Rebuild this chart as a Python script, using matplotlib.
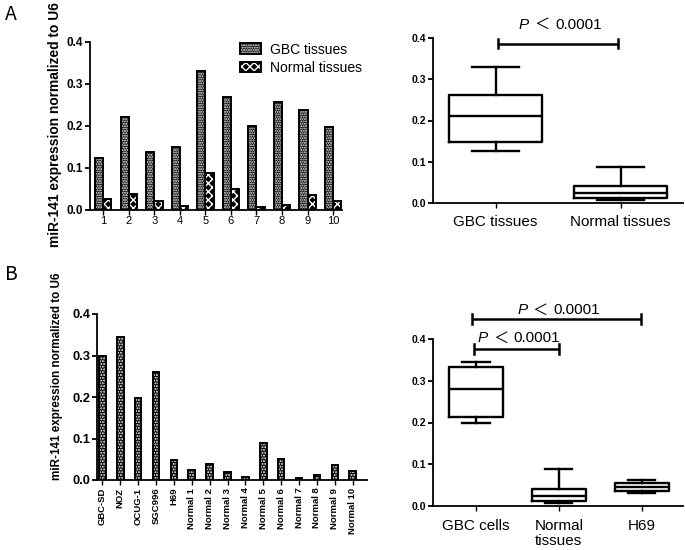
import numpy as np
import matplotlib
matplotlib.use("Agg")
import matplotlib.pyplot as plt
from matplotlib.transforms import offset_copy

plt.rcParams['font.family'] = ['Liberation Sans', 'Noto Sans CJK SC', 'DejaVu Sans']
plt.rcParams['hatch.linewidth'] = 1.0

# ---------------- data ----------------
a_groups = ['1', '2', '3', '4', '5', '6', '7', '8', '9', '10']
a_gbc = [0.125, 0.222, 0.137, 0.150, 0.330, 0.270, 0.200, 0.258, 0.238, 0.198]
a_normal = [0.027, 0.038, 0.021, 0.009, 0.088, 0.050, 0.008, 0.013, 0.036, 0.021]

b_labels = ['GBC-SD', 'NOZ', 'OCUG-1', 'SGC996', 'H69',
            'Normal 1', 'Normal 2', 'Normal 3', 'Normal 4', 'Normal 5',
            'Normal 6', 'Normal 7', 'Normal 8', 'Normal 9', 'Normal 10']
b_values = [0.300, 0.345, 0.198, 0.260, 0.048,
            0.025, 0.038, 0.019, 0.008, 0.088,
            0.050, 0.006, 0.013, 0.036, 0.021]

box_a_labels = ['GBC tissues', 'Normal tissues']
box_b_labels = ['GBC cells', 'Normal\ntissues', 'H69']
# H69 replicate box statistics (low whisker, Q1, median, Q3, high whisker)
h69_stats = [0.032, 0.035, 0.046, 0.055, 0.062]

yticks = [0.0, 0.1, 0.2, 0.3, 0.4]
ylabel = 'miR-141 expression normalized to U6'
p_sym, p_val = '＜', '0.0001'


def box_stats(values, label):
    v = np.asarray(values)
    q1, med, q3 = np.percentile(v, [25, 50, 75], method='weibull')
    return dict(whislo=v.min(), q1=q1, med=med, q3=q3, whishi=v.max(),
                fliers=[], label=label)


def stats_from_list(s, label):
    return dict(whislo=s[0], q1=s[1], med=s[2], q3=s[3], whishi=s[4],
                fliers=[], label=label)


fig = plt.figure(figsize=(6.85, 5.5), dpi=100)
W, H = 685, 550


def add_ax(left, right, top, bottom):
    return fig.add_axes([left / W, 1 - bottom / H, (right - left) / W, (bottom - top) / H])


def style_axis(ax, ytick_size):
    for s in ['top', 'right']:
        ax.spines[s].set_visible(False)
    for s in ['left', 'bottom']:
        ax.spines[s].set_linewidth(1.3)
    ax.set_ylim(0, 0.4)
    ax.set_yticks(yticks)
    ax.set_yticklabels([f'{t:.1f}' for t in yticks], fontsize=ytick_size, fontweight='bold')
    ax.tick_params(axis='y', direction='out', length=3.5, width=1.3, pad=1.5)
    ax.tick_params(axis='x', direction='out', length=3.5, width=1.0)


def patterned_bars(ax, xpos, vals, width, hatch, lw=1.4):
    inner = ax.bar(xpos, vals, width, facecolor='black', edgecolor='white',
                   linewidth=0, hatch=hatch)
    outer = ax.bar(xpos, vals, width, fill=False, edgecolor='black', linewidth=lw)
    return inner, outer


def sig_bar(ax, x0, x1, y, ytext, dh=0.011):
    ax.plot([x0, x1], [y, y], color='black', lw=1.8, clip_on=False, solid_capstyle='butt')
    for x in (x0, x1):
        ax.plot([x, x], [y - dh, y + dh], color='black', lw=1.8, clip_on=False)
    xc = (x0 + x1) / 2
    tP = offset_copy(ax.transData, fig=fig, x=-29, y=0, units='dots')
    tS = offset_copy(ax.transData, fig=fig, x=-16, y=0, units='dots')
    tV = offset_copy(ax.transData, fig=fig, x=-3, y=0, units='dots')
    ax.text(xc, ytext, 'P', transform=tP, ha='right', va='center', fontsize=11,
            fontstyle='italic', clip_on=False)
    ax.text(xc, ytext, p_sym, transform=tS, ha='center', va='center', fontsize=11,
            family=['Noto Sans CJK SC'], fontweight='light', clip_on=False)
    ax.text(xc, ytext, p_val, transform=tV, ha='left', va='center', fontsize=11,
            clip_on=False)


# ---------------- Panel A: bars ----------------
axA = add_ax(90, 342, 42, 210)
x = np.arange(len(a_groups))
bw = 0.32
g1 = patterned_bars(axA, x - bw / 2, a_gbc, bw, '.......')
g2 = patterned_bars(axA, x + bw / 2, a_normal, bw, 'xxxx')
style_axis(axA, 8.5)
axA.set_xlim(-0.52, 9.35)
axA.set_xticks(x)
axA.set_xticklabels(a_groups, fontsize=8)
axA.tick_params(axis='x', pad=1)
axA.legend([(g1[0][0], g1[1][0]), (g2[0][0], g2[1][0])], ['GBC tissues', 'Normal tissues'],
           loc='upper left', bbox_to_anchor=(0.575, 1.03), frameon=False, fontsize=10,
           handlelength=1.5, handleheight=0.8, handletextpad=0.6, labelspacing=0.3,
           borderaxespad=0)
fig.text(55 / W, 1 - 125 / H, ylabel, rotation=90, ha='center', va='center',
         fontsize=9.9, fontweight='bold')

# ---------------- Panel A: box ----------------
axAb = add_ax(433, 683, 38, 203)
statsA = [box_stats(a_gbc, box_a_labels[0]), box_stats(a_normal, box_a_labels[1])]
lp = dict(color='black', linewidth=1.7)
axAb.bxp(statsA, positions=[0, 1], widths=0.75, capwidths=0.375, showfliers=False,
         boxprops=lp, whiskerprops=lp, capprops=lp, medianprops=lp)
style_axis(axAb, 7.5)
axAb.set_xlim(-0.5, 1.5)
axAb.set_xticks([0, 1])
axAb.set_xticklabels(box_a_labels, fontsize=11)
axAb.tick_params(axis='x', pad=5)
sig_bar(axAb, 0.02, 0.98, 0.386, 0.432)

# ---------------- Panel B: bars ----------------
axB = add_ax(97, 367, 314, 480)
xb = np.arange(len(b_labels))
patterned_bars(axB, xb, b_values, 0.37, '......', lw=1.4)
style_axis(axB, 9.3)
axB.set_xlim(-0.3, 14.8)
axB.set_xticks(xb)
axB.set_xticklabels(b_labels, rotation=90, fontsize=6.8, fontweight='bold')
axB.tick_params(axis='x', pad=2)
fig.text(57 / W, 1 - 376 / H, ylabel, rotation=90, ha='center', va='center',
         fontsize=8.4, fontweight='bold')

# ---------------- Panel B: box ----------------
axBb = add_ax(433, 683, 339, 506)
statsB = [box_stats(b_values[:4], box_b_labels[0]),
          box_stats(a_normal, box_b_labels[1]),
          stats_from_list(h69_stats, box_b_labels[2])]
axBb.bxp(statsB, positions=[0, 1, 2], widths=0.65, capwidths=0.33, showfliers=False,
         boxprops=lp, whiskerprops=lp, capprops=lp, medianprops=lp)
style_axis(axBb, 7.5)
axBb.set_xlim(-0.52, 2.5)
axBb.set_xticks([0, 1, 2])
axBb.set_xticklabels(box_b_labels, fontsize=11, linespacing=1.1)
axBb.tick_params(axis='x', pad=6)
sig_bar(axBb, -0.02, 1.0, 0.376, 0.402)
sig_bar(axBb, -0.05, 1.99, 0.448, 0.469)

# panel letters
fig.text(5 / W, 1 - 14 / H, 'A', fontsize=14, fontweight='light',
         family=['Noto Sans CJK SC'], va='center', ha='left')
fig.text(5 / W, 1 - 275 / H, 'B', fontsize=14, fontweight='light',
         family=['Noto Sans CJK SC'], va='center', ha='left')

fig.savefig('out.png', dpi=100)
